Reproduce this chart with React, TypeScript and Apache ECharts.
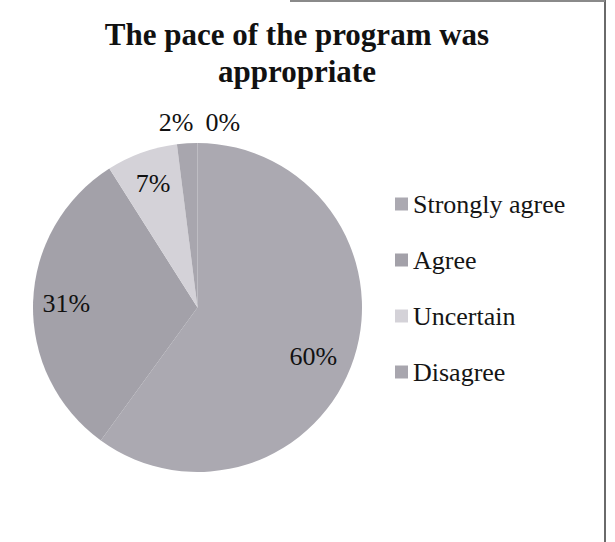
import React, { useEffect, useRef } from "react";
import * as echarts from "echarts";

const categories = ["Strongly agree", "Agree", "Uncertain", "Disagree", "Strongly disagree"];
const values = [60, 31, 7, 2, 0];
const legendNames = ["Strongly agree", "Agree", "Uncertain", "Disagree"];
const colors = ["#aba9b1", "#a3a1a9", "#d4d2d8", "#a8a6ae", "#8f8d95"];
const titleText = "The pace of the program was\nappropriate";

const SERIF = "'Liberation Serif', 'Times New Roman', serif";

export default function App() {
  const ref = useRef<HTMLDivElement>(null);

  useEffect(() => {
    document.body.style.margin = "0";
    if (!ref.current) return;
    const chart = echarts.init(ref.current, undefined, { renderer: "svg" });
    const R = 164.5;
    const data = categories.map((name, i) => ({
      name,
      value: values[i],
      itemStyle: { color: colors[i] },
    }));
    const labelData = categories.map((name, i) => ({
      name,
      value: values[i],
      itemStyle: { color: "rgba(0,0,0,0)" },
      label:
        i >= 3
          ? { show: true, position: "outside" as const }
          : { show: true, position: "inside" as const },
      labelLine: { show: false },
    }));
    chart.setOption({
      animation: false,
      backgroundColor: "#ffffff",
      title: {
        text: titleText,
        left: 292,
        top: 11,
        textAlign: "center",
        textStyle: {
          fontFamily: SERIF,
          fontSize: 31,
          fontWeight: "bold",
          lineHeight: 37,
          color: "#111111",
        },
      },
      legend: {
        data: legendNames,
        orient: "vertical",
        left: 390,
        top: 186,
        icon: "rect",
        itemWidth: 13,
        itemHeight: 13,
        itemGap: 30,
        textStyle: {
          fontFamily: SERIF,
          fontSize: 26,
          lineHeight: 26,
          color: "#151515",
        },
      },
      graphic: [
        {
          type: "line",
          shape: { x1: 605, y1: 0, x2: 605, y2: 542 },
          style: { stroke: "#6a6a6a", lineWidth: 2 },
          silent: true,
        },
        {
          type: "line",
          shape: { x1: 290, y1: 1, x2: 605, y2: 1 },
          style: { stroke: "#8a8a8a", lineWidth: 2 },
          silent: true,
        },
      ],
      series: [
        {
          type: "pie",
          center: [197.5, 307.5],
          radius: [0, R],
          startAngle: 90,
          clockwise: true,
          avoidLabelOverlap: false,
          label: { show: false },
          labelLine: { show: false },
          itemStyle: { borderWidth: 0 },
          emphasis: { disabled: true },
          data,
        },
        {
          type: "pie",
          center: [197.5, 307.5],
          radius: [R * 0.56, R],
          startAngle: 90,
          clockwise: true,
          silent: true,
          avoidLabelOverlap: false,
          emphasis: { disabled: true },
          itemStyle: { borderWidth: 0 },
          label: {
            fontFamily: SERIF,
            fontSize: 26,
            color: "#111111",
            formatter: (p: any) => `${Math.round(p.percent)}%`,
          },
          labelLine: { show: false, length: 0, length2: 0 },
          labelLayout: (p: any) => {
            if (p.dataIndex === 0) {
              return { dx: -9, dy: 8 };
            }
            if (p.dataIndex === 3) {
              return {
                x: p.rect.x + p.rect.width - 4,
                y: p.rect.y - 21,
                align: "right",
                verticalAlign: "middle",
              };
            }
            if (p.dataIndex === 4) {
              return {
                x: p.rect.x + 8,
                y: p.rect.y - 21,
                align: "left",
                verticalAlign: "middle",
              };
            }
            return {};
          },
          data: labelData,
        },
      ],
    });
    return () => {
      chart.dispose();
    };
  }, []);

  return <div ref={ref} style={{ width: 615, height: 542 }} />;
}
